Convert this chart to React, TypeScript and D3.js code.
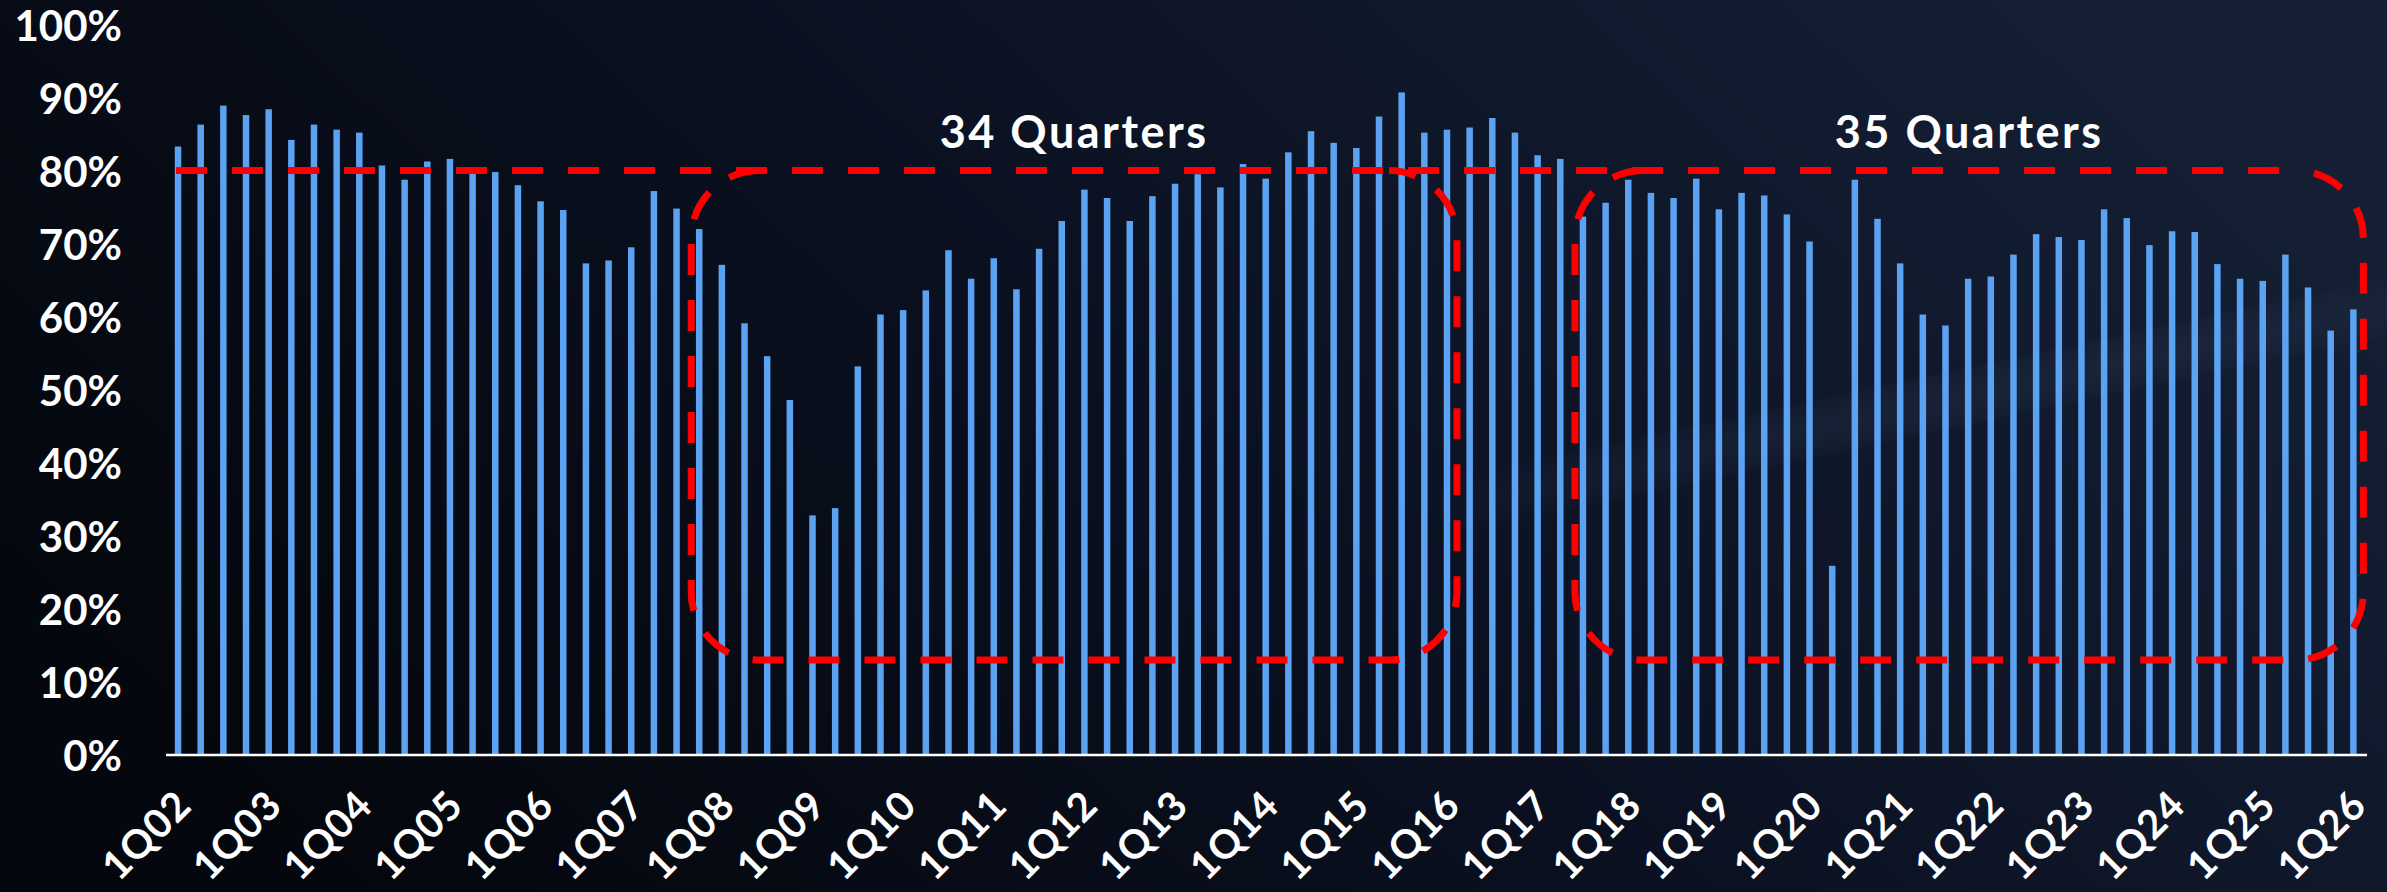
import React from "react";
import * as d3 from "d3";

const W = 2387;
const H = 892;

const years = ["02","03","04","05","06","07","08","09","10","11","12","13","14","15","16","17","18","19","20","21","22","23","24","25"];
const quarters: string[] = [];
years.forEach((y) => ["1", "2", "3", "4"].forEach((q) => quarters.push(`${q}Q${y}`)));
quarters.push("1Q26");

const utilization = [
  83.3, 86.3, 88.9, 87.6, 88.4, 84.2, 86.3, 85.6, 85.2, 80.7,
  78.75, 81.25, 81.6, 80.0, 79.8, 78.0, 75.8, 74.6, 67.3, 67.7,
  69.5, 77.2, 74.8, 72.0, 67.1, 59.1, 54.6, 48.6, 32.8, 33.8,
  53.2, 60.3, 60.9, 63.6, 69.1, 65.2, 68.0, 63.75, 69.3, 73.1,
  77.4, 76.25, 73.1, 76.5, 78.2, 79.5, 77.7, 80.9, 78.9, 82.5,
  85.4, 83.8, 83.1, 87.4, 90.7, 85.2, 85.6, 85.9, 87.2, 85.2,
  82.1, 81.6, 73.7, 75.6, 78.75, 76.95, 76.25, 78.9, 74.7, 76.95,
  76.6, 74.0, 70.3, 25.9, 78.75, 73.4, 67.3, 60.3, 58.8, 65.2,
  65.5, 68.5, 71.3, 70.9, 70.5, 74.7, 73.5, 69.8, 71.7, 71.6,
  67.2, 65.2, 64.9, 68.5, 64.0, 58.1, 61.0,
];

const xTickLabels = ["1Q02","1Q03","1Q04","1Q05","1Q06","1Q07","1Q08","1Q09","1Q10","1Q11","1Q12","1Q13","1Q14","1Q15","1Q16","1Q17","1Q18","1Q19","1Q20","1Q21","1Q22","1Q23","1Q24","1Q25","1Q26"];
const yTicks = [0, 10, 20, 30, 40, 50, 60, 70, 80, 90, 100];

const threshold = 80;
const boxLow = 13;
const boxes = [
  { from: "4Q07", to: "1Q16", label: "34 Quarters" },
  { from: "3Q17", to: "1Q26", label: "35 Quarters" },
];

const FONT = "Lato, 'Open Sans', sans-serif";

export default function App() {
  React.useEffect(() => {
    document.body.style.margin = "0";
  }, []);

  const x = d3.scaleBand<string>().domain(quarters).range([166.7, 2364.7]).padding(0);
  const y = d3.scaleLinear().domain([0, 100]).range([755, 24.5]);
  const bw = 6.5;
  const cx = (q: string) => (x(q) as number) + x.bandwidth() / 2;

  const r = 68;
  const boxPaths = boxes.map((b) => {
    const left = cx(b.from) - 8;
    const right = cx(b.to) + 10;
    const top = y(threshold);
    const bottom = y(boxLow);
    const p = d3.path();
    p.moveTo(left + r, top);
    p.arcTo(left, top, left, top + r, r);
    p.lineTo(left, bottom - r);
    p.arcTo(left, bottom, left + r, bottom, r);
    p.lineTo(right - r, bottom);
    p.arcTo(right, bottom, right, bottom - r, r);
    p.lineTo(right, top + r);
    p.arcTo(right, top, right - r, top, r);
    return { d: p.toString(), cxm: (left + right) / 2, label: b.label };
  });
  const lastRight = cx(boxes[1].to) + 10;

  return (
    <svg width={W} height={H} style={{ display: "block" }}>
      <defs>
        <linearGradient id="bg" x1="0" y1="0.6" x2="1" y2="0.2">
          <stop offset="0" stopColor="#04070d" />
          <stop offset="0.45" stopColor="#0a1020" />
          <stop offset="1" stopColor="#152036" />
        </linearGradient>
        <filter id="blur" x="-50%" y="-50%" width="200%" height="200%">
          <feGaussianBlur stdDeviation="18" />
        </filter>
      </defs>
      <rect x={0} y={0} width={W} height={H} fill="url(#bg)" />
      <ellipse cx={1950} cy={400} rx={520} ry={14} fill="#8aa0c8" opacity={0.12}
        transform="rotate(-12 1950 400)" filter="url(#blur)" />

      {quarters.map((q, i) => (
        <rect key={q} x={cx(q) - bw / 2} y={y(utilization[i])} width={bw}
          height={y(0) - y(utilization[i])} fill="#5ba3f2" />
      ))}

      <line x1={166} x2={2367} y1={y(0)} y2={y(0)} stroke="#ffffff" strokeWidth={2.5} />

      {yTicks.map((t) => (
        <text key={t} x={122} y={y(t)} textAnchor="end" dominantBaseline="central"
          fill="#ffffff" fontFamily={FONT} fontWeight={700} fontSize={42}>{`${t}%`}</text>
      ))}

      {xTickLabels.map((l) => (
        <text key={l} transform={`translate(${cx(l) + 5},${797}) rotate(-45)`} textAnchor="end"
          dominantBaseline="central" fill="#ffffff" fontFamily={FONT} fontWeight={700}
          fontSize={40} letterSpacing={1}>{l}</text>
      ))}

      <line x1={cx(quarters[0]) - 2} x2={lastRight - r} y1={y(threshold)} y2={y(threshold)}
        stroke="#ff0000" strokeWidth={7} strokeDasharray="31 25" />
      {boxPaths.map((b) => (
        <path key={b.label} d={b.d} fill="none" stroke="#ff0000" strokeWidth={7}
          strokeDasharray="31 25" />
      ))}
      {boxPaths.map((b) => (
        <text key={b.label + "t"} x={b.cxm} y={148} textAnchor="middle" fill="#ffffff"
          fontFamily={FONT} fontWeight={700} fontSize={45} letterSpacing={2.5}>{b.label}</text>
      ))}
    </svg>
  );
}
